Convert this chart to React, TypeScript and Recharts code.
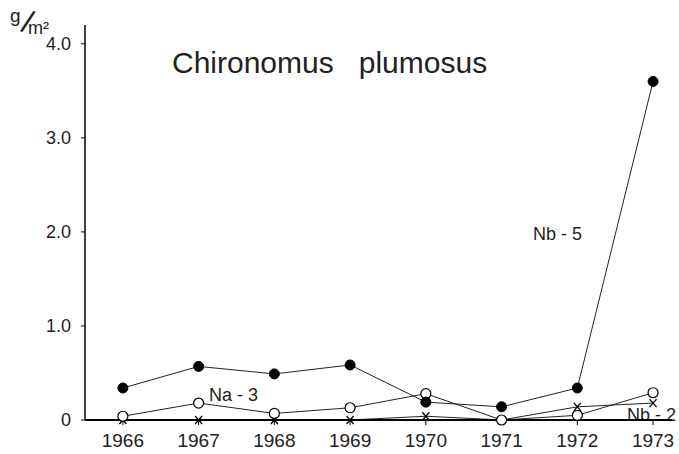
import React from "react";
import { LineChart, Line, XAxis, YAxis } from "recharts";

const years = [1966, 1967, 1968, 1969, 1970, 1971, 1972, 1973];
const nb5 = [0.34, 0.57, 0.49, 0.585, 0.19, 0.14, 0.34, 3.6];
const na3 = [0.04, 0.18, 0.07, 0.13, 0.28, 0.0, 0.05, 0.29];
const nb2 = [0.0, 0.0, 0.0, 0.0, 0.04, 0.0, 0.14, 0.18];
const yTicks = [0, 1, 2, 3, 4];
const title = "Chironomus   plumosus";
const seriesLabels = ["Nb - 5", "Na - 3", "Nb - 2"];

const data = years.map((y, i) => ({ year: y, nb5: nb5[i], na3: na3[i], nb2: nb2[i] }));

const FONT = "'Liberation Sans', Arial, sans-serif";

const FilledDot = (p: any) => <circle cx={p.cx} cy={p.cy} r={5} fill="#000" stroke="#000" strokeWidth={1} />;
const OpenDot = (p: any) => <circle cx={p.cx} cy={p.cy} r={5} fill="#fff" stroke="#000" strokeWidth={1.2} />;
const CrossDot = (p: any) => (
  <g stroke="#000" strokeWidth={1.3}>
    <line x1={p.cx - 3.5} y1={p.cy - 4} x2={p.cx + 3.5} y2={p.cy + 4} />
    <line x1={p.cx + 3.5} y1={p.cy - 4} x2={p.cx - 3.5} y2={p.cy + 4} />
  </g>
);

export default function App() {
  return (
    <div style={{ position: "absolute", left: 0, top: 0, width: 679, height: 454, background: "#fff" }}>
      <LineChart width={679} height={454} data={data} margin={{ top: 25, right: 7, left: 25, bottom: 0 }}>
        <XAxis
          dataKey="year"
          type="number"
          domain={[1965.5, 1973.25]}
          ticks={years}
          height={34}
          stroke="#000"
          strokeWidth={1.8}
          tickSize={5}
          tickMargin={9}
          tick={{ fill: "#222", fontSize: 19, fontFamily: FONT }}
          tickLine={{ stroke: "#000", strokeWidth: 1 }}
        />
        <YAxis
          type="number"
          domain={[0, 4.2]}
          ticks={yTicks}
          width={60}
          stroke="#000"
          strokeWidth={1.5}
          tickSize={4}
          tickMargin={10}
          tickFormatter={(v: number) => (v === 0 ? "0" : v.toFixed(1))}
          tick={{ fill: "#222", fontSize: 18, fontFamily: FONT }}
          tickLine={{ stroke: "#000", strokeWidth: 1 }}
        />
        <Line dataKey="nb2" stroke="#222" strokeWidth={1} dot={<CrossDot />} isAnimationActive={false} />
        <Line dataKey="na3" stroke="#222" strokeWidth={1} dot={<OpenDot />} isAnimationActive={false} />
        <Line dataKey="nb5" stroke="#222" strokeWidth={1} dot={<FilledDot />} isAnimationActive={false} />
        <text x={172} y={73} fontSize={30} fontFamily={FONT} fill="#222" style={{ whiteSpace: "pre" }}>
          {title}
        </text>
        <text x={533} y={240} fontSize={18} fontFamily={FONT} fill="#222" style={{ whiteSpace: "pre" }}>
          {seriesLabels[0]}
        </text>
        <text x={209} y={401} fontSize={18} fontFamily={FONT} fill="#222" style={{ whiteSpace: "pre" }}>
          {seriesLabels[1]}
        </text>
        <text x={627} y={421} fontSize={18} fontFamily={FONT} fill="#222" style={{ whiteSpace: "pre" }}>
          {seriesLabels[2]}
        </text>
        <text x={10} y={22} fontSize={19} fontFamily={FONT} fill="#222">g</text>
        <text x={28} y={33} fontSize={32} fontFamily={FONT} fill="#222" textAnchor="middle" transform="rotate(18 28 21)">/</text>
        <text x={28} y={34} fontSize={18} fontFamily={FONT} fill="#222">m²</text>
      </LineChart>
    </div>
  );
}
